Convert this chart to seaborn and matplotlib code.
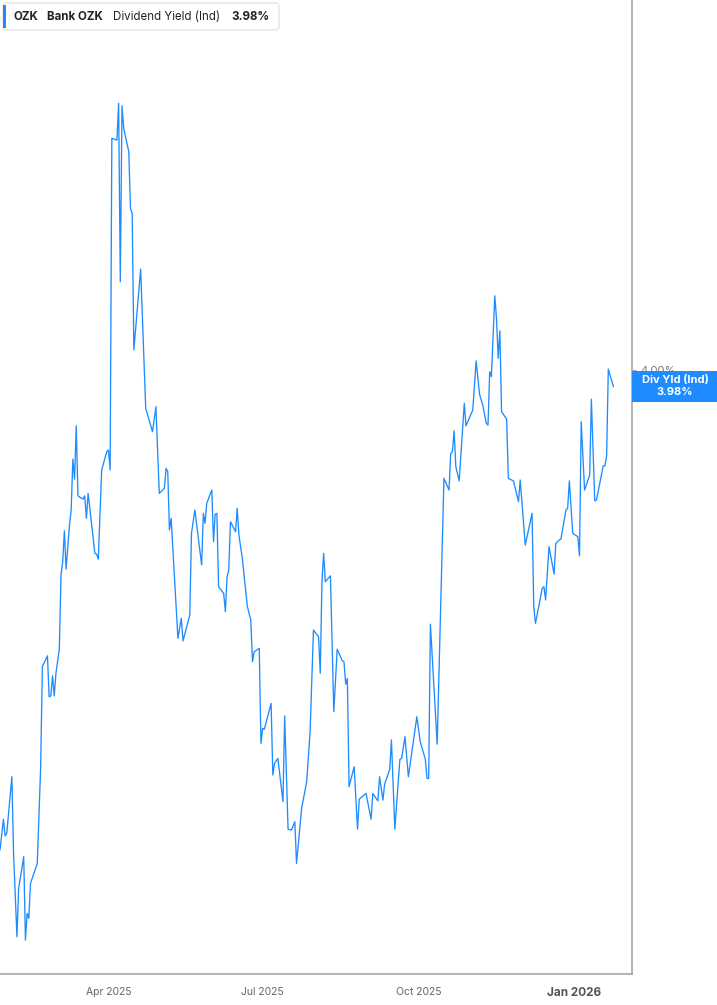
import pandas as pd
import matplotlib
matplotlib.use('Agg')
import matplotlib.pyplot as plt
import matplotlib.transforms as mtransforms
from matplotlib.patches import Rectangle, FancyBboxPatch
import seaborn as sns

# daily dividend yield (%)
dates = [
    '2025-01-27', '2025-01-29', '2025-01-30', '2025-01-31', '2025-02-03', '2025-02-04', '2025-02-06', '2025-02-07', '2025-02-10', '2025-02-11',
    '2025-02-12', '2025-02-13', '2025-02-14', '2025-02-18', '2025-02-20', '2025-02-21', '2025-02-24', '2025-02-25', '2025-02-26', '2025-02-27',
    '2025-02-28', '2025-03-01', '2025-03-03', '2025-03-04', '2025-03-05', '2025-03-06', '2025-03-07', '2025-03-09', '2025-03-10', '2025-03-11',
    '2025-03-12', '2025-03-13', '2025-03-14', '2025-03-17', '2025-03-18', '2025-03-19', '2025-03-20', '2025-03-24', '2025-03-25', '2025-03-26',
    '2025-03-28', '2025-03-31', '2025-04-01', '2025-04-02', '2025-04-03', '2025-04-06', '2025-04-07', '2025-04-08', '2025-04-09', '2025-04-10',
    '2025-04-13', '2025-04-14', '2025-04-15', '2025-04-16', '2025-04-20', '2025-04-23', '2025-04-27', '2025-04-29', '2025-05-01', '2025-05-04',
    '2025-05-05', '2025-05-06', '2025-05-07', '2025-05-08', '2025-05-12', '2025-05-14', '2025-05-15', '2025-05-19', '2025-05-20', '2025-05-22',
    '2025-05-26', '2025-05-27', '2025-05-28', '2025-05-29', '2025-06-01', '2025-06-02', '2025-06-03', '2025-06-04', '2025-06-05', '2025-06-08',
    '2025-06-09', '2025-06-10', '2025-06-11', '2025-06-12', '2025-06-15', '2025-06-16', '2025-06-17', '2025-06-19', '2025-06-22', '2025-06-24',
    '2025-06-25', '2025-06-26', '2025-06-29', '2025-06-30', '2025-07-01', '2025-07-02', '2025-07-06', '2025-07-07', '2025-07-08', '2025-07-10',
    '2025-07-13', '2025-07-14', '2025-07-16', '2025-07-18', '2025-07-20', '2025-07-21', '2025-07-24', '2025-07-27', '2025-07-29', '2025-07-31',
    '2025-08-03', '2025-08-04', '2025-08-05', '2025-08-06', '2025-08-07', '2025-08-10', '2025-08-12', '2025-08-14', '2025-08-17', '2025-08-18',
    '2025-08-19', '2025-08-20', '2025-08-21', '2025-08-24', '2025-08-26', '2025-08-27', '2025-08-31', '2025-09-03', '2025-09-04', '2025-09-07',
    '2025-09-08', '2025-09-10', '2025-09-11', '2025-09-14', '2025-09-15', '2025-09-17', '2025-09-20', '2025-09-21', '2025-09-23', '2025-09-25',
    '2025-09-30', '2025-10-02', '2025-10-05', '2025-10-06', '2025-10-07', '2025-10-08', '2025-10-12',
    '2025-10-16', '2025-10-19', '2025-10-20', '2025-10-21', '2025-10-22', '2025-10-23', '2025-10-25', '2025-10-28', '2025-10-29', '2025-11-02',
    '2025-11-04', '2025-11-06', '2025-11-08', '2025-11-10', '2025-11-11', '2025-11-12', '2025-11-13', '2025-11-15', '2025-11-16', '2025-11-17',
    '2025-11-18', '2025-11-19', '2025-11-22', '2025-11-23', '2025-11-26', '2025-11-29', '2025-11-30', '2025-12-03', '2025-12-07', '2025-12-08',
    '2025-12-09', '2025-12-13', '2025-12-14', '2025-12-15', '2025-12-17', '2025-12-20', '2025-12-21', '2025-12-23', '2025-12-24', '2025-12-27',
    '2025-12-28', '2025-12-29', '2025-12-31', '2026-01-03', '2026-01-04', '2026-01-05', '2026-01-07', '2026-01-10', '2026-01-11', '2026-01-13',
    '2026-01-14', '2026-01-18', '2026-01-19', '2026-01-20', '2026-01-21', '2026-01-24',
]
div_yield = [
    3.424, 3.461, 3.441, 3.444, 3.512, 3.420, 3.320, 3.378, 3.416, 3.316,
    3.348, 3.342, 3.384, 3.408, 3.524, 3.644, 3.657, 3.608, 3.609, 3.633,
    3.609, 3.636, 3.665, 3.754, 3.770, 3.807, 3.761, 3.814, 3.832, 3.893,
    3.869, 3.933, 3.849, 3.845, 3.849, 3.822, 3.852, 3.780, 3.779, 3.773,
    3.880, 3.902, 3.904, 3.880, 4.278, 4.276, 4.320, 4.106, 4.317, 4.290,
    4.262, 4.194, 4.188, 4.024, 4.121, 3.954, 3.926, 3.956, 3.852, 3.858,
    3.882, 3.878, 3.808, 3.822, 3.678, 3.702, 3.675, 3.706, 3.804, 3.832,
    3.766, 3.828, 3.816, 3.840, 3.856, 3.794, 3.827, 3.828, 3.740, 3.732,
    3.710, 3.752, 3.760, 3.818, 3.806, 3.834, 3.802, 3.774, 3.716, 3.700,
    3.650, 3.662, 3.666, 3.552, 3.570, 3.569, 3.600, 3.514, 3.528, 3.534,
    3.482, 3.585, 3.449, 3.448, 3.458, 3.408, 3.474, 3.506, 3.566, 3.688,
    3.680, 3.636, 3.746, 3.780, 3.746, 3.753, 3.590, 3.665, 3.651, 3.650,
    3.623, 3.630, 3.500, 3.524, 3.449, 3.485, 3.492, 3.461, 3.492, 3.483,
    3.512, 3.484, 3.503, 3.521, 3.556, 3.449, 3.533, 3.534, 3.560, 3.512,
    3.584, 3.554, 3.533, 3.510, 3.510, 3.695, 3.551,
    3.870, 3.856, 3.900, 3.902, 3.927, 3.884, 3.867, 3.960, 3.933, 3.952,
    4.011, 3.971, 3.957, 3.936, 3.934, 3.998, 3.992, 4.089, 4.062, 4.014,
    4.047, 3.950, 3.941, 3.870, 3.867, 3.842, 3.868, 3.790, 3.828, 3.716,
    3.696, 3.738, 3.740, 3.724, 3.788, 3.755, 3.792, 3.796, 3.797, 3.832,
    3.834, 3.867, 3.804, 3.800, 3.777, 3.938, 3.856, 3.874, 3.965, 3.843,
    3.844, 3.885, 3.885, 3.897, 4.001, 3.980,
]

tick_dates = ['2025-04-01', '2025-07-01', '2025-10-01', '2026-01-01']
tick_labels = ['Apr 2025', 'Jul 2025', 'Oct 2025', 'Jan 2026']
y_ticks = [4.00]
last_yield = 3.98

BLUE = '#1e8cff'

sns.set_style('white')
plt.rcParams['font.family'] = ['Inter', 'DejaVu Sans']

df = pd.DataFrame({'date': pd.to_datetime(dates), 'yield': div_yield})

fig = plt.figure(figsize=(7.17, 10.05), dpi=100)
ax = fig.add_axes([0, 0.0308, 0.8815, 0.9692])
sns.lineplot(data=df, x='date', y='yield', ax=ax, color=BLUE, linewidth=0.95, estimator=None)

ax.set_xlim(pd.Timestamp('2025-01-27'), pd.Timestamp('2026-02-04'))
ax.set_ylim(3.2752, 4.444)
ax.set_xlabel('')
ax.set_ylabel('')

for s in ['left', 'top']:
    ax.spines[s].set_visible(False)
for s in ['right', 'bottom']:
    ax.spines[s].set_color('#a6a6a6')
    ax.spines[s].set_linewidth(1.2)

# y axis on the right, one tick
ax.yaxis.tick_right()
ax.set_yticks(y_ticks)
ax.set_yticklabels([f'{v:.2f}%' for v in y_ticks], color='#777777', fontsize=8)
ax.tick_params(axis='y', length=3, color='#a6a6a6', pad=3)

# x axis
ax.set_xticks(pd.to_datetime(tick_dates))
ax.set_xticklabels(tick_labels, color='#666666', fontsize=7.5)
ax.tick_params(axis='x', length=5, color='#a6a6a6', pad=4)
lbl = ax.get_xticklabels()[-1]
lbl.set_fontweight('bold')
lbl.set_fontsize(8.5)
lbl.set_color('#555555')

# last value label on the right edge
blend = mtransforms.blended_transform_factory(fig.transFigure, ax.transData)
fig.add_artist(Rectangle((0.8815, last_yield - 0.0186), 1 - 0.8815, 0.0372,
                         transform=blend, facecolor=BLUE, edgecolor='none'))
fig.text(0.9414, last_yield + 0.0075, 'Div Yld (Ind)', transform=blend, ha='center', va='center',
         color='white', fontsize=8, fontweight='bold')
fig.text(0.9414, last_yield - 0.0068, f'{last_yield:.2f}%', transform=blend, ha='center', va='center',
         color='white', fontsize=8, fontweight='bold')

# header box top-left
fig.add_artist(FancyBboxPatch((3 / 717, 1 - 30 / 1005), 276 / 717, 27 / 1005,
                              boxstyle='round,pad=0,rounding_size=0.004', transform=fig.transFigure,
                              facecolor='white', edgecolor='#e4e4e4', linewidth=1))
fig.add_artist(Rectangle((3 / 717, 1 - 28 / 1005), 3 / 717, 23 / 1005,
                         transform=fig.transFigure, facecolor=BLUE, edgecolor='none'))
ty = 1 - 16.5 / 1005
hdr = dict(ha='left', va='center', fontsize=8.3, color='#222222')
fig.text(14 / 717, ty, 'OZK', fontweight='bold', **hdr)
fig.text(47 / 717, ty, 'Bank OZK', fontweight='bold', **hdr)
fig.text(113 / 717, ty, 'Dividend Yield (Ind)', **hdr)
fig.text(231 / 717, ty, f'{last_yield:.2f}%', fontweight='bold', **hdr)

fig.savefig('out.png', dpi=100)
